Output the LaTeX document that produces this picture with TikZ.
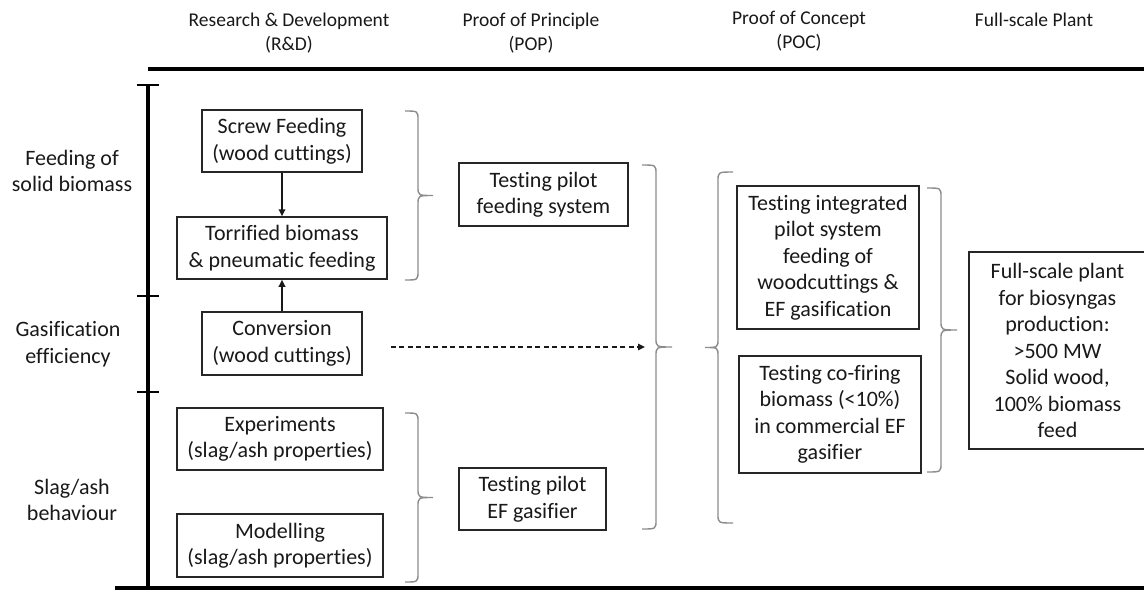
\documentclass[tikz,border=0pt]{standalone}
\usepackage{fontspec}
\setmainfont{Carlito}[RawFeature=-liga]
\usetikzlibrary{arrows.meta}

% curly brace: #1 x of the ends, #2 x of the spine, #3 x of the tip, #4 top y, #5 bottom y
\newcommand\braceshape[5]{%
  \draw[brace line] (#1,#4) .. controls (#2,#4) .. (#2,{#4+9})
    -- (#2,{(#4+#5)/2-9}) .. controls (#2,{(#4+#5)/2}) .. (#3,{(#4+#5)/2})
    .. controls (#2,{(#4+#5)/2}) .. (#2,{(#4+#5)/2+9})
    -- (#2,{#5-9}) .. controls (#2,#5) .. (#1,#5);}

\begin{document}
\begin{tikzpicture}[x=1pt,y=-1pt,
  every node/.style={font=\fontsize{22}{26.5}\selectfont, text=black!90},
  stage/.style={font=\fontsize{19.5}{24}\selectfont, align=center, inner sep=0},
  rowlabel/.style={align=center, inner sep=0},
  box/.style={draw=black!85, line width=1.5pt, align=center, inner sep=0, fill=white},
  axis/.style={line width=3.2pt, black},
  tickmark/.style={line width=2.2pt, black},
  link/.style={line width=1.7pt, black!90, -{Triangle[length=7pt,width=6.5pt]}},
  hint/.style={line width=1.5pt, black!90, dash pattern=on 5pt off 3.5pt, -{Triangle[length=7pt,width=6.5pt]}},
  brace line/.style={line width=1.4pt, black!45}]
\useasboundingbox (0,0) rectangle (1144,590);

% stage headings
\node[stage] (rd)   at (289,33)  {Research \& Development\\(R\&D)};
\node[stage] (pop)  at (531,33)  {Proof of Principle\\(POP)};
\node[stage] (poc)  at (799,31)  {Proof of Concept\\(POC)};
\node[stage] (fsp)  at (1034,20) {Full-scale Plant};

% axes and row separators
\draw[axis] (148,69) -- (1144,69);
\draw[axis] (115,588) -- (1144,588);
\draw[axis] (148,85) -- (148,588);
\draw[tickmark] (137,85) -- (159,85);
\draw[tickmark] (137,296) -- (159,296);
\draw[tickmark] (137,392) -- (159,392);

% row labels
\node[rowlabel] (lfeed) at (72,171) {Feeding of\\solid biomass};
\node[rowlabel] (lgas)  at (68,344) {Gasification\\efficiency};
\node[rowlabel] (lslag) at (72,500) {Slag/ash\\behaviour};

% R&D activities
\node[box, minimum width=160pt, minimum height=62pt] (screw) at (282,141)   {Screw Feeding\\(wood cuttings)};
\node[box, minimum width=210pt, minimum height=62pt] (torr)  at (282,248)   {Torrified biomass\\\& pneumatic feeding};
\node[box, minimum width=160pt, minimum height=63pt] (conv)  at (282,343.5) {Conversion\\(wood cuttings)};
\node[box, minimum width=206pt, minimum height=62pt] (exper) at (280,439)   {Experiments\\(slag/ash properties)};
\node[box, minimum width=206pt, minimum height=63pt] (model) at (280,545.5) {Modelling\\(slag/ash properties)};

% POP activities
\node[box, minimum width=169pt, minimum height=63pt] (tpfs) at (543.5,194.5) {Testing pilot\\feeding system};
\node[box, minimum width=147pt, minimum height=62pt] (tpef) at (532.5,499)   {Testing pilot\\EF gasifier};

% POC activities
\node[box, minimum width=182pt, minimum height=143pt] (tint) at (828,257.5)
  {Testing integrated\\pilot system\\feeding of\\woodcuttings \&\\EF gasification};
\node[box, minimum width=182pt, minimum height=117pt] (tcof) at (830,414.5)
  {Testing co-firing\\biomass (<10\%)\\in commercial EF\\gasifier};

% full-scale plant
\node[box, minimum width=177pt, minimum height=197pt] (full) at (1057.5,350.5)
  {Full-scale plant\\for biosyngas\\production:\\>500 MW\\Solid wood,\\100\% biomass\\feed};

% connectors
\draw[link] (screw) -- (torr);
\draw[link] (conv) -- (torr);
\coordinate (dashend) at (645,347);
\draw[hint] ([xshift=28pt,yshift=-3.5pt]conv.east) -- (dashend);

% grouping braces
\braceshape{405}{418}{433}{111}{280}
\braceshape{405}{418}{433}{413}{582}
\braceshape{642}{656}{672}{165}{529}
\braceshape{733}{718}{705}{172}{523}
\braceshape{927}{941}{957}{188}{472}
\end{tikzpicture}
\end{document}
